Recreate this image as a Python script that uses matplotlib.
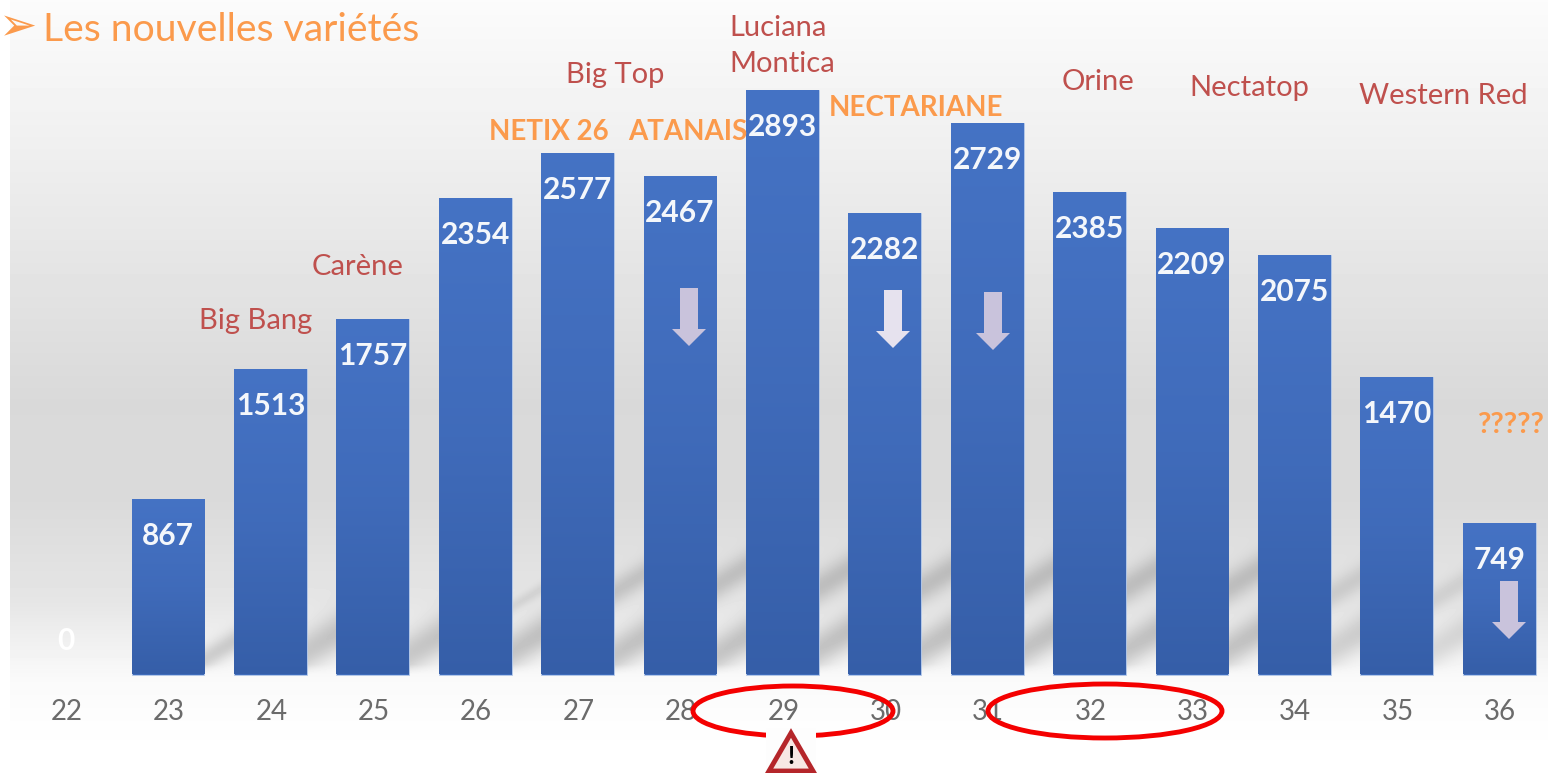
import numpy as np
import matplotlib
matplotlib.use('Agg')
import matplotlib.pyplot as plt
from matplotlib.patches import Ellipse, Polygon, Rectangle

plt.rcParams['font.family'] = ['Lato', 'DejaVu Sans']

## data
weeks = [22, 23, 24, 25, 26, 27, 28, 29, 30, 31, 32, 33, 34, 35, 36]
values = [0, 867, 1513, 1757, 2354, 2577, 2467, 2893, 2282, 2729, 2385, 2209, 2075, 1470, 749]
down_weeks = [28, 30, 31, 36]
red_labels = ['Big Bang', 'Carène', 'Big Top', 'Luciana\nMontica', 'Orine', 'Nectatop', 'Western Red']
orange_labels = ['NETIX 26', 'ATANAIS', 'NECTARIANE', '?????']

ORANGE = '#fb9a4c'
RED = '#bf504d'
W, H = 1548, 773

fig = plt.figure(figsize=(W / 100, H / 100), dpi=100)

# background layer in pixel coords
bg = fig.add_axes([0, 0, 1, 1], zorder=0)
bg.set_xlim(0, W)
bg.set_ylim(H, 0)
bg.axis('off')

ys = [0, 150, 400, 500, 600, 640, 680, 730, 773]
gs = [0.985, 0.937, 0.851, 0.855, 0.90, 0.94, 0.98, 0.995, 1.0]
grad = np.interp(np.arange(H), ys, gs)
back = np.tile(grad.reshape(-1, 1), (1, W))

# soft diagonal shadow bands seen in the gaps: gap centre x, band centre y, sigma, darkness
bands = [(219, 650, 9, 0.15), (322, 642, 15, 0.17), (424, 645, 15, 0.17),
         (527, 597, 5, 0.07), (527, 642, 14, 0.18),
         (630, 582, 10, 0.13), (630, 645, 14, 0.18),
         (732, 575, 11, 0.14), (732, 645, 14, 0.18),
         (834, 578, 12, 0.15), (834, 640, 14, 0.18),
         (937, 578, 12, 0.15), (937, 640, 14, 0.18),
         (1039, 578, 12, 0.15), (1039, 640, 14, 0.18),
         (1142, 578, 12, 0.15), (1142, 640, 14, 0.18),
         (1244, 578, 12, 0.15), (1244, 640, 14, 0.18),
         (1347, 585, 10, 0.10), (1347, 640, 14, 0.13),
         (1449, 590, 9, 0.08), (1449, 640, 13, 0.10)]
xx, yy = np.meshgrid(np.arange(W), np.arange(H))
fade = np.clip((674 - yy) / 10, 0, 1)
for xc, yc, s, d in bands:
    mask = np.abs(xx - xc) < 20
    back = back - mask * fade * d * np.exp(-((yy - yc + 0.6 * (xx - xc)) / s) ** 2 / 2)
bg.imshow(back[:, 10:], cmap='gray', vmin=0, vmax=1, extent=[10, W, H, 0], aspect='auto', zorder=0,
          interpolation='nearest')

# chart: bars go through real data scales
ax = fig.add_axes([0, 0, 1, 1], zorder=1)
ax.patch.set_alpha(0)
px_week = 102.4
px_unit = 585 / 2893
x_lim = (22 - 65.6 / px_week, 22 + (W - 65.6) / px_week)
y_lim = (-(H - 674.5) / px_unit, 674.5 / px_unit)
ax.axis('off')

bars = ax.bar(weeks, values, width=0.71, color='#3f6cbb', zorder=2)
ramp = np.array([[0.27, 0.45, 0.77], [0.25, 0.42, 0.73], [0.21, 0.37, 0.66]])
for b in bars:
    if b.get_height() == 0:
        b.set_visible(False)
        continue
    b.set_edgecolor('#b9cdec')
    b.set_linewidth(0.6)
    img = np.interp(np.linspace(0, 1, 256), [0, 0.5, 1], [0, 1, 2])
    rgb = np.stack([np.interp(img, [0, 1, 2], ramp[:, i]) for i in range(3)], axis=-1).reshape(-1, 1, 3)
    im = ax.imshow(rgb, extent=[b.get_x(), b.get_x() + b.get_width(), 0, b.get_height()],
                   aspect='auto', zorder=2.1)
    im.set_clip_path(b)
ax.set_xlim(*x_lim)
ax.set_ylim(*y_lim)

for wk, v in zip(weeks, values):
    # the empty week keeps its label above the baseline
    offset = -37 if v > 0 else 34
    col = '#f4f7fb' if v > 0 else 'white'
    ax.annotate(str(v), (wk, v), xytext=(0, offset), textcoords='offset pixels', ha='center', va='center',
                color=col, fontsize=21.5, fontweight='bold', zorder=3)
for wk in weeks:
    ax.annotate(str(wk), (wk, 0), xytext=(1, -37), textcoords='offset pixels', ha='center', va='center',
                color='#6b6b6b', fontsize=20, zorder=3)

# overlay layer in pixel coords
top = fig.add_axes([0, 0, 1, 1], zorder=2)
top.patch.set_alpha(0)
top.set_xlim(0, W)
top.set_ylim(H, 0)
top.axis('off')

top.text(-1, 28, '\u27a2', color=ORANGE, fontsize=33, family='DejaVu Sans', ha='left', va='center')
top.text(43, 30, 'Les nouvelles variétés', color=ORANGE, fontsize=28.2, ha='left', va='center')

for label, (x, y) in zip(red_labels, [(256, 321), (358, 267), (615, 75), (729, 46), (1098, 82), (1249, 88), (1443, 96)]):
    ha = 'left' if '\n' in label else 'center'
    top.text(x, y, label, color=RED, fontsize=21, ha=ha, va='center', linespacing=1.45)
for label, (x, y), fs in zip(orange_labels, [(549, 132), (688, 132), (916, 108), (1510, 425)], [20, 20, 20, 21]):
    top.text(x, y, label, color=ORANGE, fontsize=fs, fontweight='bold', ha='center', va='center')

# down arrows on the bars flagged
arrow_cols = ['#c9c3dc', '#e6e2ee', '#c9c3dc', '#c9c3dc']
for wk, x, y, col in zip(down_weeks, [689, 893, 993, 1509], [288, 290, 292, 581], arrow_cols):
    top.add_patch(Polygon([(x - 9, y), (x + 9, y), (x + 9, y + 41), (x + 17, y + 41), (x, y + 58),
                           (x - 17, y + 41), (x - 9, y + 41)], closed=True, fc=col, ec='none', zorder=4))

top.add_patch(Ellipse((793, 711), 200, 50, fc='none', ec='#f40000', lw=3.5, zorder=5))
top.add_patch(Ellipse((1105, 711), 234, 54, fc='none', ec='#f40000', lw=3.5, zorder=5))

# warning sign
top.add_patch(Rectangle((766, 728), 50, 45, fc='#fdfdfd', ec='none', zorder=6))
top.add_patch(Polygon([(791, 733), (813, 771), (769, 771)], closed=True, fc='#f7e8e4', ec='#b5262a', lw=3.5,
                      joinstyle='miter', zorder=7))
top.text(791, 757, '!', color='black', fontsize=18, fontweight='bold', ha='center', va='center', zorder=8)

fig.savefig('out.png', dpi=100)
